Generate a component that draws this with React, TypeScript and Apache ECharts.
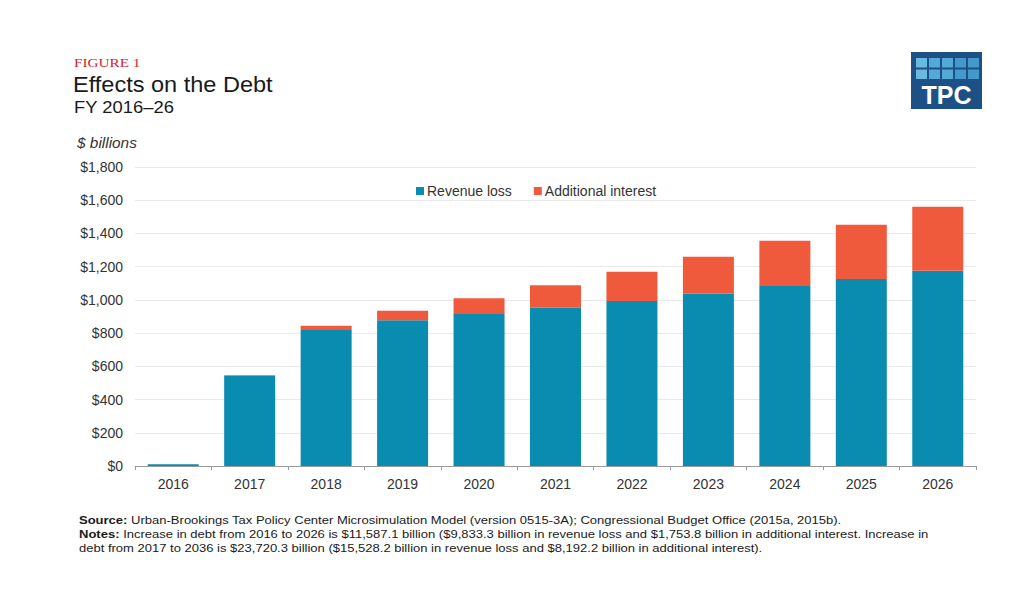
import React, { useEffect, useRef } from "react";
import * as echarts from "echarts";

const years = ["2016", "2017", "2018", "2019", "2020", "2021", "2022", "2023", "2024", "2025", "2026"];
const revenueLoss = [10, 542, 818, 878, 915, 953, 993, 1037, 1084, 1126, 1175];
const additionalInterest = [0, 5, 27, 57, 95, 135, 177, 223, 272, 327, 385];
const yTicks = { min: 0, max: 1800, interval: 200 };

const FONT = "'Liberation Sans', Arial, Helvetica, sans-serif";
const BLUE = "#0a8bb0";
const ORANGE = "#ef5a3d";

export default function App() {
  const ref = useRef<HTMLDivElement>(null);
  useEffect(() => {
    if (!ref.current) return;
    const chart = echarts.init(ref.current, null, { renderer: "svg" });
    const logoSquares: any[] = [];
    const sqColors = [
      ["#6ab9df", "#55a9d6", "#55a9d6", "#4399cb", "#4399cb"],
      ["#6ab9df", "#55a9d6", "#55a9d6", "#4399cb", "#4399cb"],
    ];
    for (let r = 0; r < 2; r++) {
      for (let c = 0; c < 5; c++) {
        logoSquares.push({
          type: "rect",
          shape: { x: 916 + c * 13, y: 58 + r * 11.5, width: 11, height: 9.5 },
          style: { fill: sqColors[r][c] },
        });
      }
    }
    chart.setOption({
      animation: false,
      backgroundColor: "#ffffff",
      textStyle: { fontFamily: FONT },
      grid: { left: 135, right: 48, top: 167, bottom: 127, containLabel: false },
      legend: {
        data: [
          { name: "Revenue loss", itemStyle: { color: BLUE } },
          { name: "Additional interest", itemStyle: { color: ORANGE } },
        ],
        left: 411,
        top: 179,
        itemWidth: 8,
        itemHeight: 8,
        itemGap: 22,
        icon: "rect",
        textStyle: { fontFamily: FONT, fontSize: 14, color: "#333", padding: [0, 0, 0, -2] },
      },
      xAxis: {
        type: "category",
        data: years,
        axisLine: { lineStyle: { color: "#9a9a9a", width: 1 } },
        axisTick: { show: true, length: 4, lineStyle: { color: "#9a9a9a" } },
        axisLabel: { fontFamily: FONT, fontSize: 14, color: "#333", margin: 11 },
      },
      yAxis: {
        type: "value",
        min: yTicks.min,
        max: yTicks.max,
        interval: yTicks.interval,
        axisLine: { show: false },
        axisTick: { show: false },
        splitLine: { lineStyle: { color: "#e9e9e9", width: 1 } },
        axisLabel: {
          fontFamily: FONT,
          fontSize: 14,
          color: "#333",
          margin: 12,
          formatter: (v: number) => "$" + v.toLocaleString("en-US"),
        },
      },
      series: [
        {
          name: "Revenue loss",
          type: "bar",
          stack: "debt",
          barWidth: 51,
          data: revenueLoss,
          itemStyle: { color: BLUE },
        },
        {
          name: "Additional interest",
          type: "bar",
          stack: "debt",
          barWidth: 51,
          data: additionalInterest,
          itemStyle: { color: ORANGE },
        },
      ],
      graphic: [
        {
          type: "text",
          x: 74,
          y: 55,
          scaleX: 1.13,
          style: { text: "FIGURE 1", fontFamily: "'Liberation Serif', serif", fontSize: 13.5, fill: "#d7252d", verticalAlign: "top" },
        },
        {
          type: "text",
          x: 73,
          y: 73,
          scaleX: 1.07,
          style: { text: "Effects on the Debt", fontFamily: FONT, fontSize: 22, fill: "#1a1a1a", verticalAlign: "top" },
        },
        {
          type: "text",
          x: 74,
          y: 99,
          scaleX: 1.15,
          style: { text: "FY 2016–26", fontFamily: FONT, fontSize: 16, fill: "#1a1a1a", verticalAlign: "top" },
        },
        {
          type: "text",
          x: 77,
          y: 136,
          scaleX: 1.1,
          style: { text: "$ billions", fontFamily: FONT, fontSize: 14, fontStyle: "italic", fill: "#333", verticalAlign: "top" },
        },
        {
          type: "group",
          children: [
            { type: "rect", shape: { x: 911, y: 52, width: 71, height: 57 }, style: { fill: "#1d5185" } },
            ...logoSquares,
            {
              type: "text",
              x: 946.5,
              y: 95,
              style: {
                text: "TPC",
                fontFamily: FONT,
                fontWeight: "bold",
                fontSize: 25,
                fill: "#ffffff",
                align: "center",
                verticalAlign: "middle",
              },
            },
          ],
        },
        {
          type: "text",
          x: 79,
          y: 513,
          scaleX: 1.133,
          style: {
            text:
              "{b|Source:} Urban-Brookings Tax Policy Center Microsimulation Model (version 0515-3A); Congressional Budget Office (2015a, 2015b).\n" +
              "{b|Notes:} Increase in debt from 2016 to 2026 is $11,587.1 billion ($9,833.3 billion in revenue loss and $1,753.8 billion in additional interest. Increase in\n" +
              "debt from 2017 to 2036 is $23,720.3 billion ($15,528.2 billion in revenue loss and $8,192.2 billion in additional interest).",
            fontFamily: FONT,
            fontSize: 11.5,
            lineHeight: 14,
            fill: "#1a1a1a",
            verticalAlign: "top",
            rich: {
              b: { fontFamily: FONT, fontSize: 11.5, fontWeight: "bold", lineHeight: 14, fill: "#1a1a1a" },
            },
          },
        },
      ],
    });
    return () => chart.dispose();
  }, []);
  return (
    <div
      ref={ref}
      style={{ position: "fixed", left: 0, top: 0, width: 1024, height: 593, background: "#fff" }}
    />
  );
}
